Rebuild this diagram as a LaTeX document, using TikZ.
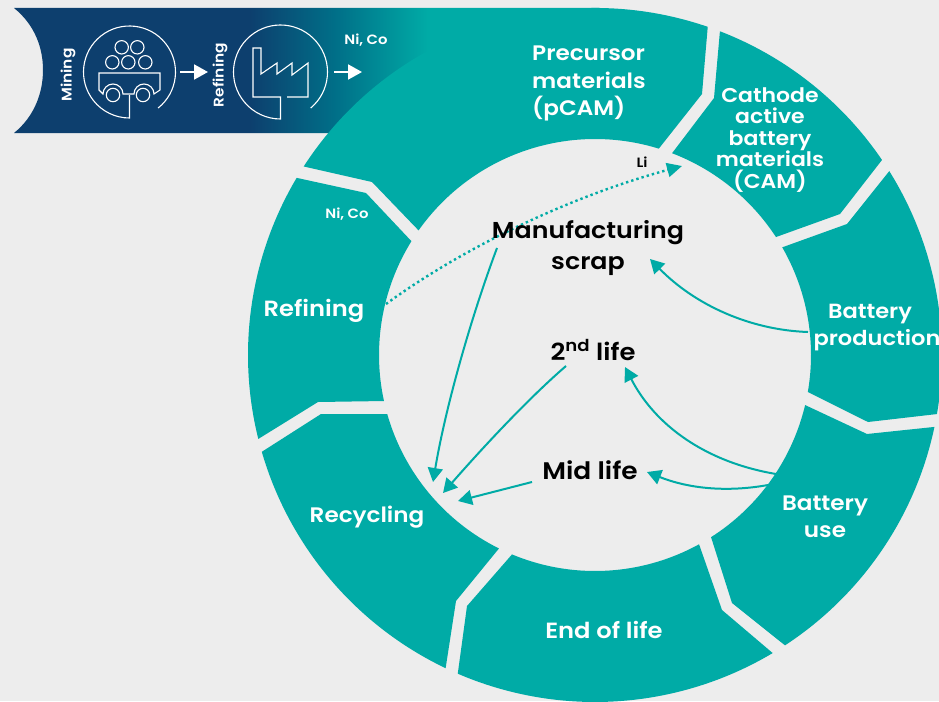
\documentclass[tikz,border=0pt]{standalone}
\usepackage{fontspec}
\setmainfont{Poppins}[BoldFont={Poppins SemiBold},FakeStretch=1.1]
\usetikzlibrary{arrows.meta,calc}
\definecolor{tealc}{HTML}{00ABA6}
\definecolor{bgc}{HTML}{EDEDED}
\definecolor{navyc}{HTML}{0D3F6E}
\definecolor{midc}{HTML}{006F88}
\newcommand{\fs}[2]{\fontsize{#1}{#2}\selectfont}
\newcommand{\ringseg}[6]{\fill[seg] ($(c)+(#1:347)$) arc[start angle=#1,end angle=#2,radius=347pt] -- #3 -- ($(c)+(#4:216)$) arc[start angle=#4,end angle=#5,radius=216pt] -- #6 -- cycle;}
\pgfdeclarehorizontalshading{bannershade}{100bp}{color(0bp)=(navyc); color(45.1bp)=(navyc); color(52.4bp)=(midc); color(60.3bp)=(tealc); color(100bp)=(tealc)}
\tikzset{
  seg/.style={fill=tealc,draw=none},
  wlab/.style={text=white,inner sep=0pt,font=\fs{21}{27.5}\bfseries,align=center},
  smalllab/.style={text=white,inner sep=0pt,font=\fs{13.5}{15}\bfseries},
  blab/.style={text=black,inner sep=0pt,font=\fs{23.5}{31}\bfseries,align=center},
  conn/.style={draw=tealc,line width=2pt,-{Triangle[length=14pt,width=15pt]}},
  dotconn/.style={draw=tealc,line width=2.4pt,dash pattern=on 2.4pt off 3pt,-{Triangle[length=15pt,width=14pt]}},
  icon/.style={draw=white,line width=1.1pt},
  wharrow/.style={draw=white,line width=1.9pt,-{Triangle[length=14pt,width=15pt]}}
}
\begin{document}
\begin{tikzpicture}[x=1pt,y=1pt]
\useasboundingbox (0,0) rectangle (939,-701);
\fill[bgc] (0,0) rectangle (939,-701);
\coordinate (c) at (595,-355);
% banner
\path[shading=bannershade] (14,-8) .. controls (35,-25) and (43,-48) .. (43,-70) .. controls (43,-92) and (35,-116) .. (14,-133) -- (600,-133) -- (600,-8) -- cycle;
% ring segments
\ringseg{71.04}{147.09}{(372,-182)}{144.77}{72.82}{(702,-94)}
\ringseg{68.9}{34.2}{(840,-214)}{33.1}{69.1}{(714,-98)}
\ringseg{32}{-9.8}{(868,-422)}{-9.85}{29.9}{(847,-224)}
\ringseg{-11.96}{-56.8}{(732,-603)}{-57.5}{-13.4}{(867,-434)}
\ringseg{-59.2}{-113.3}{(467,-606)}{-112.6}{-61.2}{(722,-610)}
\ringseg{-115.5}{-163.8}{(321,-414)}{-164.1}{-116.4}{(456,-601)}
\ringseg{-166}{-210.7}{(366,-193)}{-211.8}{-167.7}{(318,-402)}
% mining icon
\draw[icon] (129.5,-72) ++(-51.6:46) arc[start angle=-51.6,end angle=270,radius=46pt] -- (129.5,-95);
\foreach \px/\py [count=\i] in {121.7/47.3,137.3/47.3,112.3/62.3,128.3/62.3,145.3/62.3}
  \draw[icon] (\px,-\py) circle[radius=6.7pt];
\draw[icon] (113,-95) circle[radius=6.7pt] (143,-95) circle[radius=6.7pt];
\draw[icon,line join=miter] (99,-73) -- (160,-73) -- (160,-90) -- (154,-94) arc[start angle=0,end angle=180,radius=10pt] -- (123,-94) arc[start angle=0,end angle=180,radius=10pt] -- (99,-90) -- cycle;
% refining icon
\draw[icon] (280.5,-72) ++(-50:47) arc[start angle=-50,end angle=270,radius=47pt] -- (280.5,-97) -- (253,-97) -- (253,-48) -- (261,-48) -- (261,-74) -- (277,-63) -- (277,-74) -- (292,-63) -- (292,-75) -- (308,-63) -- (308,-97) -- (287,-97);
% icon arrows
\coordinate (a1s) at (180,-72); \coordinate (a1e) at (208,-72);
\coordinate (a2s) at (334,-72); \coordinate (a2e) at (362,-72);
\draw[wharrow] (a1s) -- (a1e);
\draw[wharrow] (a2s) -- (a2e);
% connector ends
\coordinate (refOut) at (386,-304);
\coordinate (liIn) at (682,-166);
\coordinate (scrapOut) at (497,-248);
\coordinate (recA) at (433,-482);
\coordinate (lifeOut) at (566,-366);
\coordinate (recB) at (443,-493);
\coordinate (midOut) at (532,-482);
\coordinate (recC) at (458,-501);
\coordinate (prodOut) at (808,-332);
\coordinate (scrapIn) at (650,-259);
\coordinate (useOutA) at (776,-474);
\coordinate (lifeIn) at (625,-367);
\coordinate (useOutB) at (768,-485);
\coordinate (midIn) at (647,-472);
\draw[dotconn] (refOut) .. controls (460,-250) and (565,-198) .. (liIn);
\draw[conn] (scrapOut) .. controls (470,-320) and (445,-410) .. (recA);
\draw[conn] (lifeOut) .. controls (530,-397) and (485,-445) .. (recB);
\draw[conn] (midOut) -- (recC);
\draw[conn] (prodOut) .. controls (750,-330) and (695,-305) .. (scrapIn);
\draw[conn] (useOutA) .. controls (705,-462) and (655,-425) .. (lifeIn);
\draw[conn] (useOutB) .. controls (735,-491) and (695,-491) .. (midIn);
% labels
\node[smalllab,rotate=90,font=\fs{14}{16}\bfseries] (mining) at (68,-75) {Mining};
\node[smalllab,rotate=90,font=\fs{14}{16}\bfseries] (refiningtop) at (220,-75) {Refining};
\node[smalllab] (nicotop) at (366,-40) {Ni, Co};
\node[wlab,align=left,anchor=north west] (pcam) at (532,-46) {Precursor\\materials\\(pCAM)};
\node[wlab,font=\fs{20}{21.5}\bfseries] (cam) at (770,-140) {Cathode\\active\\battery\\materials\\(CAM)};
\node[wlab,font=\fs{20.5}{27.5}\bfseries] (prod) at (877,-327.5) {Battery\hspace*{14pt}\\production};
\node[wlab,font=\fs{21}{27}\bfseries] (use) at (825,-517) {Battery\\use};
\node[wlab,font=\fs{22}{27}\bfseries] (eol) at (604,-630) {End of life};
\node[wlab] (recy) at (367,-517) {Recycling};
\node[wlab,font=\fs{22}{27}\bfseries] (refi) at (314,-311) {Refining};
\node[smalllab] (nico) at (347,-214) {Ni, Co};
\node[smalllab,text=black] (li) at (642,-162) {Li};
\node[blab,font=\fs{23}{31}\bfseries] (scrap) at (588,-248) {Manufacturing\\scrap};
\node[blab] (life2) at (593,-350) {2\textsuperscript{nd} life};
\node[blab,font=\fs{24}{31}\bfseries] (mid) at (590,-470) {Mid life};
\end{tikzpicture}
\end{document}
